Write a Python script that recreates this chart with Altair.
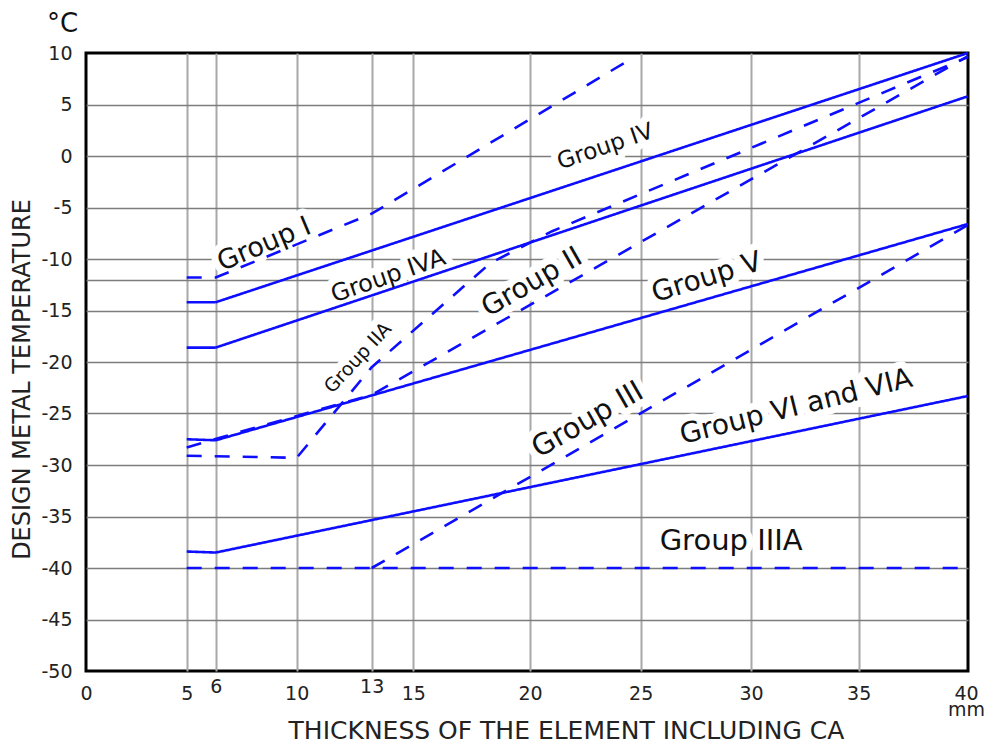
import altair as alt
import pandas as pd

FONT = "DejaVu Sans"
BLUE = "#0d0dff"

# ---- axis ticks ----
x_ticks = [0, 5, 6, 10, 13, 15, 20, 25, 30, 35, 40]
y_ticks = [-50, -45, -40, -35, -30, -25, -20, -15, -12, -10, -5, 0, 5, 10]

# ---- curves (thickness mm, temperature °C) ----
g4_x = [5, 6, 40]
g4_y = [-14.2, -14.2, 10]
g4a_x = [5, 6, 40]
g4a_y = [-18.6, -18.6, 5.8]
g5_x = [5, 6, 40]
g5_y = [-27.5, -27.6, -6.6]
g6_x = [5, 6, 40]
g6_y = [-38.4, -38.5, -23.3]
g1_x = [5, 6, 13, 24.7]
g1_y = [-11.8, -11.8, -5.6, 9.6]
g2_x = [5, 7, 13, 40]
g2_y = [-28.3, -26.9, -23.2, 9.7]
g2a_x = [5, 10, 13, 18.3, 21, 40]
g2a_y = [-29.1, -29.3, -20.5, -10.4, -7.3, 9.6]
g3_x = [13, 40]
g3_y = [-40, -6.7]
g3a_x = [5, 40]
g3a_y = [-40, -40]

curves = [
    ("Group IV", "solid", g4_x, g4_y),
    ("Group IVA", "solid", g4a_x, g4a_y),
    ("Group V", "solid", g5_x, g5_y),
    ("Group VI and VIA", "solid", g6_x, g6_y),
    ("Group I", "dashed", g1_x, g1_y),
    ("Group II", "dashed", g2_x, g2_y),
    ("Group IIA", "dashed", g2a_x, g2a_y),
    ("Group III", "dashed", g3_x, g3_y),
    ("Group IIIA", "dashed", g3a_x, g3a_y),
]
rows = []
for name, style, xs, ys in curves:
    for i, (xv, yv) in enumerate(zip(xs, ys)):
        rows.append({"group": name, "style": style, "i": i, "x": xv, "y": yv})
df = pd.DataFrame(rows)

# ---- curve labels ----
lab_text = ["Group I", "Group IV", "Group IVA", "Group IIA", "Group II",
            "Group V", "Group III", "Group VI and VIA", "Group IIIA"]
lab_x = [8.4, 23.4, 13.8, 12.45, 20.1, 28.0, 22.6, 32.1, 29.1]
lab_y = [-8.6, 0.9, -11.7, -19.6, -12.3, -11.85, -25.6, -24.4, -37.4]
lab_angle = [337, 341, 341, 313, 330, 343, 330, 346, 0]
lab_size = [27, 23, 24, 19, 28, 28, 29, 28, 29]
labels = pd.DataFrame({"text": lab_text, "x": lab_x, "y": lab_y,
                       "angle": lab_angle, "size": lab_size})

unit_text = ["°C"]

xscale = alt.Scale(domain=x_ticks,
                   range=[0, 100.7, 129.7, 210.7, 285.7, 327.3, 444, 554.7, 665, 772.7, 882],
                   nice=False, zero=False)
yscale = alt.Scale(domain=[-50, 10], nice=False, zero=False)

xaxis = alt.Axis(
    values=x_ticks, title="THICKNESS OF THE ELEMENT INCLUDING CA",
    labelExpr="datum.value == 40 ? ['40', 'mm'] : datum.label",
    labelPadding={"condition": {"test": "datum.value == 6 || datum.value == 13", "value": 6},
                  "value": 13},
    labelOffset={"condition": {"test": "datum.value == 40", "value": -2}, "value": 0},
    labelLineHeight=16, labelFlush=False, labelOverlap=False,
    grid=True,
    gridColor={"condition": {"test": "datum.value == 0 || datum.value == 40",
                             "value": "transparent"}, "value": "#a8a8a8"},
    gridWidth=2, ticks=False, domain=False,
    labelFont=FONT, labelFontSize=19, labelColor="#222",
    titleFont=FONT, titleFontSize=25, titleFontWeight="normal", titleColor="#222",
    titleX=480, titleY=59, titleAlign="center", titleBaseline="middle",
)
yaxis = alt.Axis(
    values=y_ticks, labelExpr="datum.value == -12 ? '' : '' + datum.value",
    title="DESIGN METAL TEMPERATURE", labelFlush=False, labelOverlap=False,
    grid=True,
    gridColor={"condition": {"test": "datum.value == 10 || datum.value == -50",
                             "value": "transparent"}, "value": "#7d7d7d"},
    gridWidth=1.4, ticks=False, domain=False,
    labelPadding=14, labelFont=FONT, labelFontSize=19, labelColor="#222",
    titleFont=FONT, titleFontSize=24, titleFontWeight="normal", titleColor="#222",
    titleX=-64, titleY=326, titleAngle=270, titleAlign="center", titleBaseline="middle",
)

lines = alt.Chart(df).mark_line(strokeWidth=2.6, color=BLUE).encode(
    x=alt.X("x:Q", scale=xscale, axis=xaxis),
    y=alt.Y("y:Q", scale=yscale, axis=yaxis),
    detail="group:N",
    order="i:Q",
    strokeDash=alt.StrokeDash("style:N",
                              scale=alt.Scale(domain=["solid", "dashed"],
                                              range=[[1, 0], [15, 13]]),
                              legend=None),
)

halo = alt.Chart(labels).mark_text(font=FONT, color="white", stroke="white",
                                   strokeWidth=14, strokeJoin="round").encode(
    x=alt.X("x:Q", scale=xscale),
    y=alt.Y("y:Q", scale=yscale),
    text="text:N",
    angle=alt.Angle("angle:Q", scale=None),
    size=alt.Size("size:Q", scale=None),
)
text = alt.Chart(labels).mark_text(font=FONT, color="#111").encode(
    x=alt.X("x:Q", scale=xscale),
    y=alt.Y("y:Q", scale=yscale),
    text="text:N",
    angle=alt.Angle("angle:Q", scale=None),
    size=alt.Size("size:Q", scale=None),
)

unit = alt.Chart(pd.DataFrame({"t": unit_text})).mark_text(
    font=FONT, fontSize=26, color="#111", align="left", baseline="alphabetic"
).encode(x=alt.value(-39), y=alt.value(-21), text="t:N")

chart = alt.layer(halo, lines, text, unit).properties(
    width=882, height=618,
    autosize="none",
    background="white",
    padding={"left": 78, "top": 45, "right": 17, "bottom": 74},
).configure_view(stroke="black", strokeWidth=3)

chart.save("out.html", embed_options={"renderer": "svg", "actions": False})
